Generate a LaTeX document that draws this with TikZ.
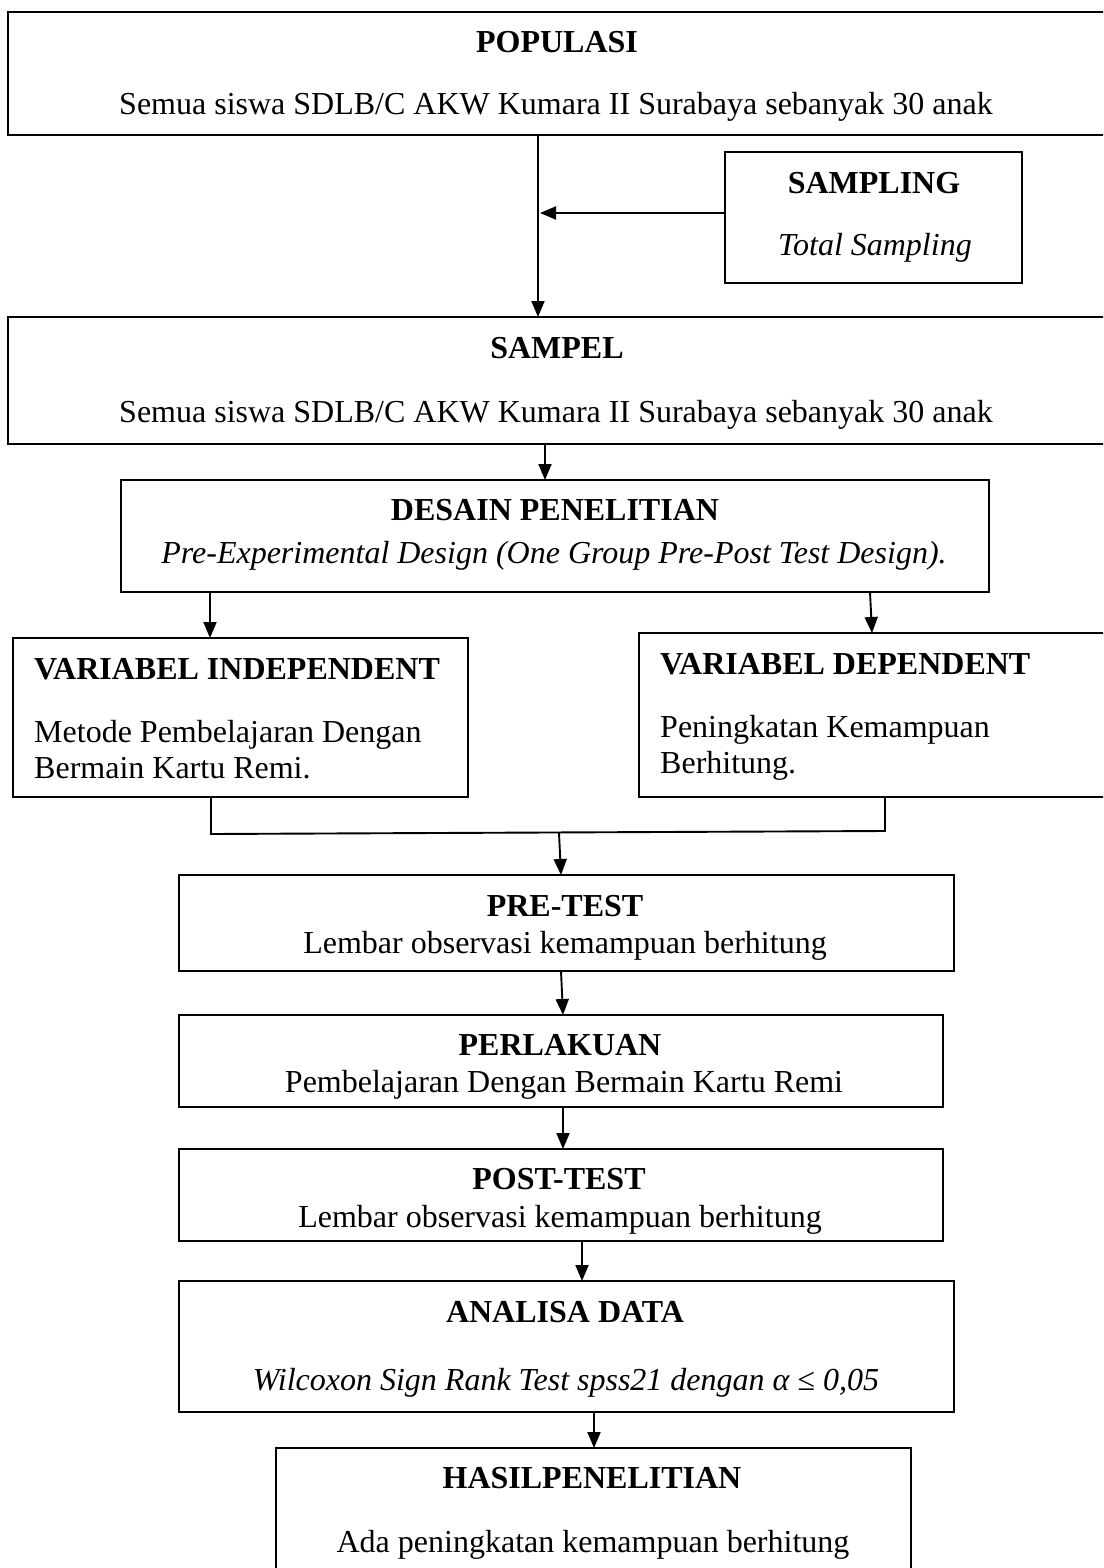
\documentclass[tikz,border=0pt]{standalone}
\usepackage{fontspec}
\setmainfont{Liberation Serif}
\usetikzlibrary{arrows.meta,fit}
\begin{document}
\begin{tikzpicture}[x=1pt,y=-1pt,
 box/.style={draw, line width=1.9pt, inner sep=0pt, outer sep=0pt},
 ttl/.style={font=\fontsize{32}{38}\selectfont\bfseries, anchor=base, inner sep=0pt},
 txt/.style={font=\fontsize{32}{38}\selectfont, anchor=base, inner sep=0pt},
 itx/.style={font=\fontsize{32}{38}\selectfont\itshape, anchor=base, inner sep=0pt},
 ltx/.style={font=\fontsize{32}{38}\selectfont, anchor=base west, inner sep=0pt},
 lttl/.style={font=\fontsize{32}{38}\selectfont\bfseries, anchor=base west, inner sep=0pt},
 arr/.style={line width=1.9pt, -{Triangle[length=16pt,width=13pt]}},
 ln/.style={line width=1.9pt}]
\useasboundingbox (0,0) rectangle (1103,1568);
\clip (0,0) rectangle (1103,1568);

% boxes
\node[box, fit={(8,12) (1112,135)}] (pop) {};
\node[box, fit={(725,152) (1022,283)}] (samp) {};
\node[box, fit={(8,317) (1112,444)}] (sampel) {};
\node[box, fit={(121,480) (989,592)}] (desain) {};
\node[box, fit={(13,638) (468,797)}] (vi) {};
\node[box, fit={(639,633) (1112,797)}] (vd) {};
\node[box, fit={(179,875) (954,971)}] (pre) {};
\node[box, fit={(179,1015) (943,1107)}] (perl) {};
\node[box, fit={(179,1149) (943,1241)}] (post) {};
\node[box, fit={(179,1281) (954,1412)}] (anal) {};
\node[box, fit={(276,1448) (911,1600)}] (hasil) {};

% texts
\node[ttl] (popT) at (557,53) {POPULASI};
\node[txt] (popS) at (556,115) {Semua siswa SDLB/C AKW Kumara II Surabaya sebanyak 30 anak};
\node[ttl] (sampT) at (874,193) {SAMPLING};
\node[itx] (sampS) at (875,255) {Total Sampling};
\node[ttl] (sampelT) at (557,358) {SAMPEL};
\node[txt] (sampelS) at (556,422) {Semua siswa SDLB/C AKW Kumara II Surabaya sebanyak 30 anak};
\node[ttl] (desT) at (555,520) {DESAIN PENELITIAN};
\node[itx] (desS) at (554,563) {Pre-Experimental Design (One Group Pre-Post Test Design).};
\node[lttl] (viT) at (34,679) {VARIABEL INDEPENDENT};
\node[ltx] (viA) at (34,742) {Metode Pembelajaran Dengan};
\node[ltx] (viB) at (34,778) {Bermain Kartu Remi.};
\node[lttl] (vdT) at (660,674) {VARIABEL DEPENDENT};
\node[ltx] (vdA) at (660,737) {Peningkatan Kemampuan};
\node[ltx] (vdB) at (660,773) {Berhitung.};
\node[ttl] (preT) at (565,916) {PRE-TEST};
\node[txt] (preS) at (565,953) {Lembar observasi kemampuan berhitung};
\node[ttl] (perlT) at (560,1055) {PERLAKUAN};
\node[txt] (perlS) at (564,1092) {Pembelajaran Dengan Bermain Kartu Remi};
\node[ttl] (postT) at (559,1189) {POST-TEST};
\node[txt] (postS) at (560,1227) {Lembar observasi kemampuan berhitung};
\node[ttl] (analT) at (565,1322) {ANALISA DATA};
\node[itx] (analS) at (566,1390) {Wilcoxon Sign Rank Test spss21 dengan α ≤ 0,05};
\node[ttl] (hasT) at (592,1488) {HASILPENELITIAN};
\node[txt] (hasS) at (593,1552) {Ada peningkatan kemampuan berhitung};

% coordinates
\coordinate (c1) at (538,0);
\coordinate (j1) at (540,213);
\coordinate (c2) at (545,0);
\coordinate (c3) at (210,0);
\coordinate (c4a) at (870,0);
\coordinate (c4b) at (872,0);
\coordinate (jl) at (211,834);
\coordinate (jr) at (885,831);
\coordinate (jm) at (559,833);
\coordinate (c5) at (561,0);
\coordinate (c6a) at (561,0);
\coordinate (c6b) at (563,0);
\coordinate (c7) at (563,0);
\coordinate (c8) at (582,0);
\coordinate (c9) at (594,0);

% connectors
\draw[arr] (pop.south -| c1) -- (sampel.north -| c1);
\draw[arr] (samp.west |- j1) -- (j1);
\draw[arr] (sampel.south -| c2) -- (desain.north -| c2);
\draw[arr] (desain.south -| c3) -- (vi.north -| c3);
\draw[arr] (desain.south -| c4a) -- (vd.north -| c4b);
\draw[ln] (vi.south -| jl) -- (jl) -- (jr) -- (vd.south -| jr);
\draw[arr] (jm) -- (pre.north -| c5);
\draw[arr] (pre.south -| c6a) -- (perl.north -| c6b);
\draw[arr] (perl.south -| c7) -- (post.north -| c7);
\draw[arr] (post.south -| c8) -- (anal.north -| c8);
\draw[arr] (anal.south -| c9) -- (hasil.north -| c9);
\end{tikzpicture}
\end{document}
